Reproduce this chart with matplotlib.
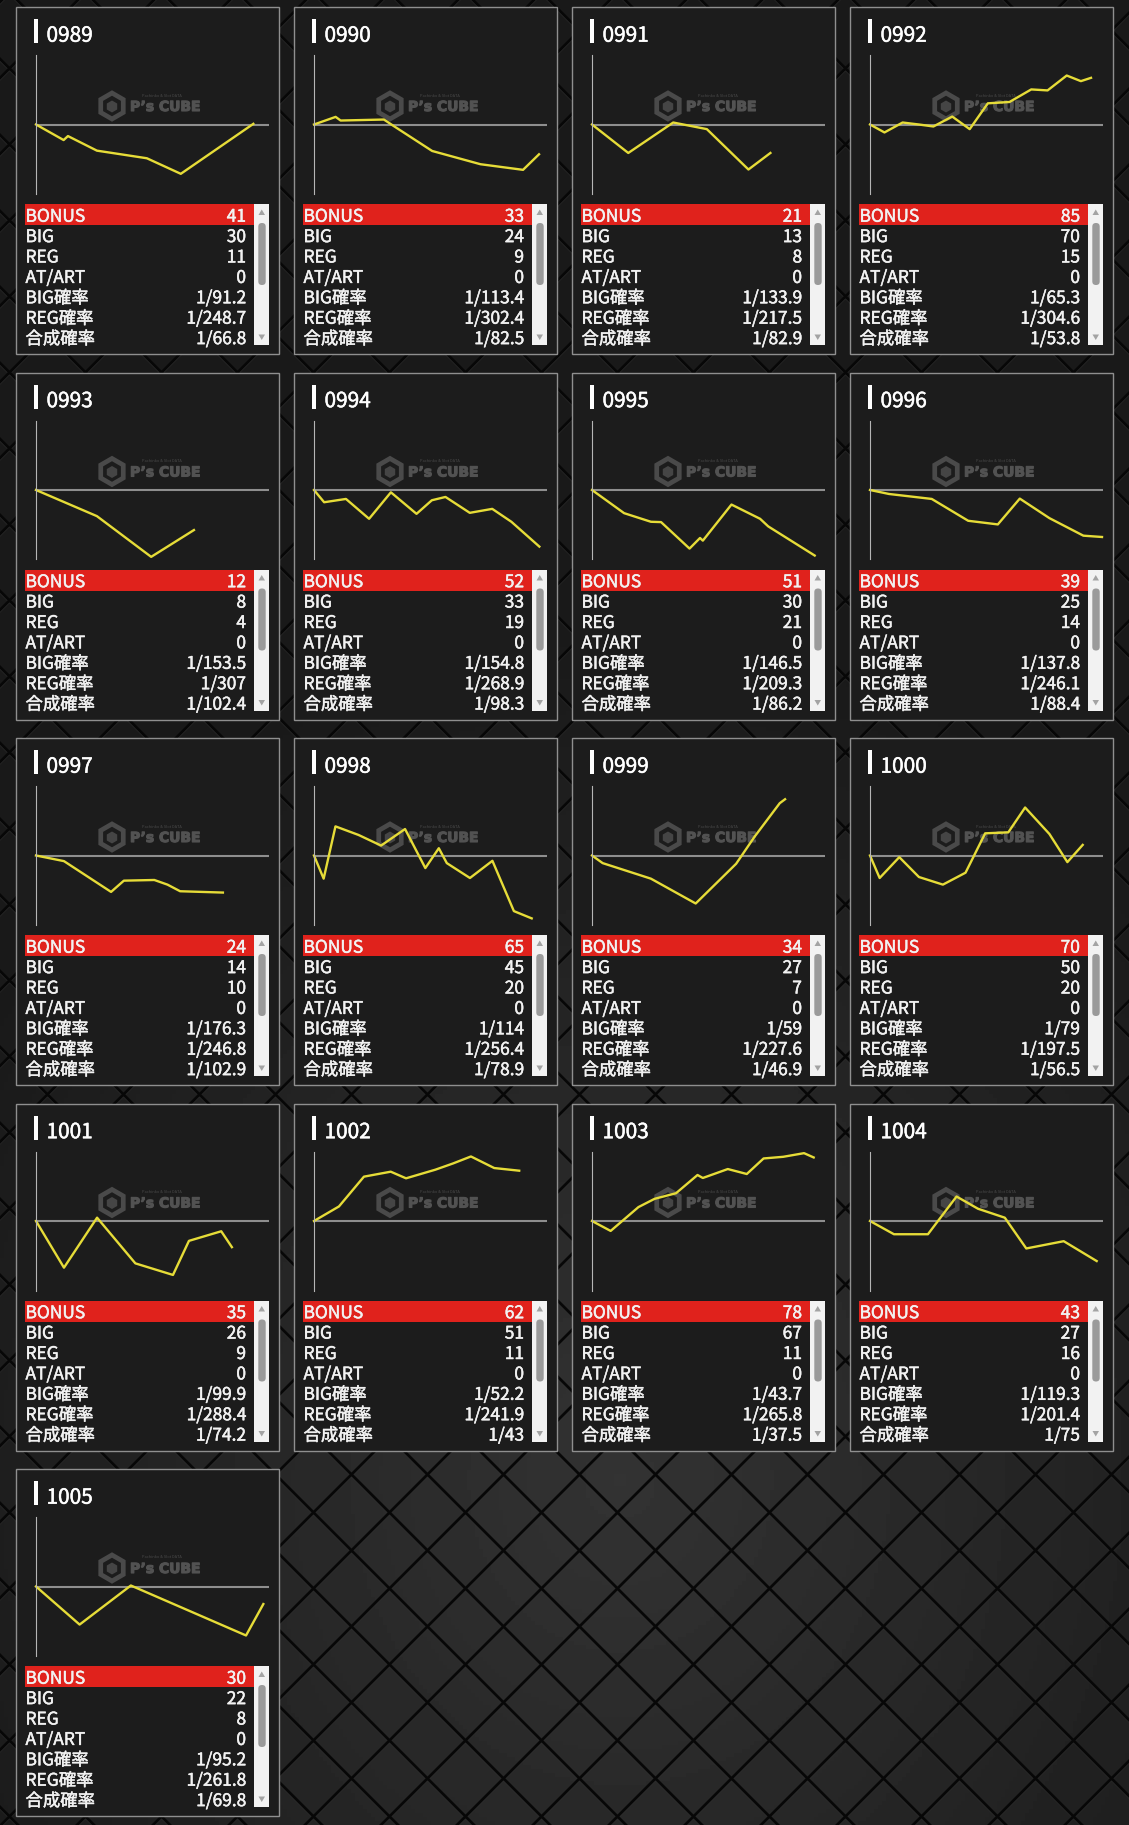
import numpy as np
import matplotlib.pyplot as plt
import matplotlib.patheffects as pe
from matplotlib.patches import Rectangle, FancyBboxPatch, Polygon, RegularPolygon

plt.rcParams['font.family'] = ['Noto Sans CJK JP', 'DejaVu Sans']

# machine data
machine_ids = ['0989', '0990', '0991', '0992', '0993', '0994', '0995', '0996', '0997',
               '0998', '0999', '1000', '1001', '1002', '1003', '1004', '1005']
bonus_counts = [41, 33, 21, 85, 12, 52, 51, 39, 24, 65, 34, 70, 35, 62, 78, 43, 30]
big_counts = [30, 24, 13, 70, 8, 33, 30, 25, 14, 45, 27, 50, 26, 51, 67, 27, 22]
reg_counts = [11, 9, 8, 15, 4, 19, 21, 14, 10, 20, 7, 20, 9, 11, 11, 16, 8]
art_counts = [0] * 17
big_rates = ['1/91.2', '1/113.4', '1/133.9', '1/65.3', '1/153.5', '1/154.8', '1/146.5', '1/137.8',
             '1/176.3', '1/114', '1/59', '1/79', '1/99.9', '1/52.2', '1/43.7', '1/119.3', '1/95.2']
reg_rates = ['1/248.7', '1/302.4', '1/217.5', '1/304.6', '1/307', '1/268.9', '1/209.3', '1/246.1',
             '1/246.8', '1/256.4', '1/227.6', '1/197.5', '1/288.4', '1/241.9', '1/265.8', '1/201.4', '1/261.8']
total_rates = ['1/66.8', '1/82.5', '1/82.9', '1/53.8', '1/102.4', '1/98.3', '1/86.2', '1/88.4',
               '1/102.9', '1/78.9', '1/46.9', '1/56.5', '1/74.2', '1/43', '1/37.5', '1/75', '1/69.8']

# slump graphs (games, coin difference), estimated
graph_games = [
    [0, 830, 960, 1830, 3330, 4350, 6530],
    [0, 650, 800, 2100, 2400, 3550, 5000, 6280, 6760],
    [0, 1090, 2440, 3450, 4700, 5360],
    [0, 435, 980, 1470, 1905, 2470, 2995, 3540, 4190, 4845, 5335, 5910, 6335, 6640],
    [0, 1830, 3460, 4745],
    [0, 305, 960, 1655, 2310, 3080, 3540, 3950, 4680, 5355, 5930, 6770],
    [0, 965, 1770, 2075, 2930, 3245, 3330, 4190, 5050, 5295, 6690],
    [0, 570, 1855, 2950, 3840, 4500, 5390, 6410, 6970],
    [0, 840, 2255, 2640, 3555, 3950, 4330, 5615],
    [0, 290, 645, 1340, 2015, 2735, 3345, 3750, 3990, 4685, 5360, 6005, 6540],
    [0, 320, 1770, 3115, 4330, 4885, 5640, 5800],
    [0, 290, 880, 1470, 2190, 2870, 3460, 4155, 4660, 5390, 5930, 6390],
    [0, 840, 1835, 2985, 4115, 4595, 5565, 5885],
    [0, 750, 1500, 2305, 2765, 3645, 4180, 4715, 5415, 6165],
    [0, 560, 1395, 1880, 2525, 3170, 3330, 4080, 4650, 5155, 5745, 6370, 6660],
    [0, 720, 1740, 2600, 3245, 4050, 4695, 5820, 6810],
    [0, 1310, 2850, 6310, 6830],
]
graph_coins = [
    [0, -470, -350, -790, -1020, -1490, 20],
    [0, 230, 120, 150, -50, -800, -1200, -1370, -900],
    [0, -860, 60, -140, -1360, -860],
    [0, -240, 60, 0, -60, 240, -140, 640, 680, 1060, 1030, 1480, 1310, 1410],
    [0, -790, -2020, -1210],
    [0, -370, -270, -870, -70, -720, -310, -210, -690, -570, -960, -1710],
    [0, -700, -960, -970, -1770, -1450, -1530, -440, -870, -1100, -1980],
    [0, -120, -270, -930, -1040, -260, -850, -1380, -1420],
    [0, -170, -1100, -760, -740, -880, -1080, -1120],
    [0, -700, 880, 620, 300, 800, -380, 220, -230, -680, -160, -1680, -1900],
    [0, -230, -700, -1450, -250, 570, 1580, 1700],
    [0, -680, -50, -650, -880, -520, 670, 700, 1450, 650, -200, 320],
    [0, -1410, 100, -1280, -1630, -600, -310, -790],
    [0, 440, 1340, 1490, 1290, 1550, 1740, 1950, 1600, 1520],
    [0, -300, 420, 670, 840, 1390, 1300, 1570, 1420, 1890, 1940, 2050, 1920],
    [0, -400, -400, 740, 370, 100, -830, -610, -1210],
    [0, -1150, 30, -1480, -530],
]

row_labels = ['BONUS', 'BIG', 'REG', 'AT/ART', 'BIG確率', 'REG確率', '合成確率']

W, H = 1129, 1825
fig = plt.figure(figsize=(W / 100, H / 100), dpi=100)
bg = fig.add_axes([0, 0, 1, 1])
bg.set_xlim(0, W)
bg.set_ylim(H, 0)
bg.axis('off')

# dark background with a soft light spot
yy, xx = np.mgrid[0:H:4, 0:W:4]
r = np.sqrt(((xx - 620) / 750) ** 2 + ((yy - 1480) / 850) ** 2)
shade = 0.10 + 0.10 * np.clip(1 - r, 0, 1)
bg.imshow(shade, cmap='gray', vmin=0, vmax=1, extent=[0, W, H, 0], aspect='auto', zorder=0)

# diamond quilt lines
pitch = 76
for c in np.arange(-W - 26, H + W, pitch):
    bg.plot([0, W], [c, c + W], color='#363636', lw=0.6, zorder=0.5)
    bg.plot([0, W], [c - 2, c - 2 + W], color='#070707', lw=2.0, zorder=0.6)
for c in np.arange(4, H + 2 * W, pitch):
    bg.plot([0, W], [c, c - W], color='#363636', lw=0.6, zorder=0.5)
    bg.plot([0, W], [c - 2, c - 2 - W], color='#070707', lw=2.0, zorder=0.6)

thick = [pe.withStroke(linewidth=0.35, foreground='#f2f2f2')]
thick_title = [pe.withStroke(linewidth=0.35, foreground='white')]
thick_mark = [pe.withStroke(linewidth=0.8, foreground='#525252')]

for i, mid in enumerate(machine_ids):
    col, row = i % 4, i // 4
    px = 16 + 278 * col
    py = 7 + 365.5 * row

    bg.add_patch(Rectangle((px, py), 262.5, 347, facecolor='#1c1c1c', edgecolor='#8f8f8f',
                           lw=1, zorder=3))
    bg.add_patch(Rectangle((px + 18, py + 12), 3.5, 24, facecolor='white', edgecolor='none', zorder=4))
    bg.text(px + 30.5, py + 34.7, mid, color='white', fontsize=15, ha='left', va='baseline',
            zorder=5, path_effects=thick_title)

    # watermark
    bg.add_patch(RegularPolygon((px + 96, py + 99), numVertices=6, radius=13, facecolor='none',
                                edgecolor='#4a4a4a', lw=3.4, zorder=4))
    bg.add_patch(RegularPolygon((px + 96, py + 99.5), numVertices=6, radius=6, facecolor='#454545',
                                edgecolor='none', zorder=4))
    bg.text(px + 114, py + 100, 'P’s CUBE', color='#525252', fontsize=10, fontweight='bold',
            family='DejaVu Sans', ha='left', va='center', zorder=4, path_effects=thick_mark)
    bg.text(px + 126, py + 88.5, 'Pachinko & Slot DATA', color='#4a4a4a', fontsize=2.8,
            ha='left', va='center', zorder=4)

    # table
    bg.add_patch(Rectangle((px + 9, py + 197), 229, 21, facecolor='#e0221c', edgecolor='none', zorder=4))
    values = [bonus_counts[i], big_counts[i], reg_counts[i], art_counts[i],
              big_rates[i], reg_rates[i], total_rates[i]]
    for k, (lab, val) in enumerate(zip(row_labels, values)):
        yb = py + 214.7 + 20.4 * k
        bg.text(px + 9.5, yb, lab, color='#f2f2f2', fontsize=12.5, ha='left', va='baseline',
                zorder=5, path_effects=thick)
        bg.text(px + 230, yb, str(val), color='#f2f2f2', fontsize=12.5, ha='right', va='baseline',
                zorder=5, path_effects=thick)

    # scrollbar
    bg.add_patch(Rectangle((px + 238, py + 197), 15, 141, facecolor='#f2f2f2', edgecolor='none', zorder=4))
    bg.add_patch(Polygon([[px + 242.5, py + 208], [px + 249, py + 208], [px + 245.75, py + 202.5]],
                         closed=True, facecolor='#a3a3a3', edgecolor='none', zorder=5))
    bg.add_patch(Polygon([[px + 242.5, py + 327.5], [px + 249, py + 327.5], [px + 245.75, py + 333]],
                         closed=True, facecolor='#a3a3a3', edgecolor='none', zorder=5))
    bg.add_patch(FancyBboxPatch((px + 242.3, py + 216), 7.4, 62,
                                boxstyle='round,pad=0,rounding_size=3.6',
                                facecolor='#9a9a9a', edgecolor='none', zorder=5))

    # slump graph
    ax = fig.add_axes([(px + 20) / W, 1 - (py + 187) / H, 233 / W, 139 / H])
    ax.set_facecolor('none')
    ax.axhline(0, color='#8e8e8e', lw=1.5, zorder=1)
    ax.plot(graph_games[i], graph_coins[i], color='#e6dc38', lw=1.7, zorder=2, clip_on=False)
    ax.set_xlim(0, 7000)
    ax.set_ylim(-2100, 2100)
    ax.set_xticks([])
    ax.set_yticks([])
    for s in ['top', 'right', 'bottom']:
        ax.spines[s].set_visible(False)
    ax.spines['left'].set_color('#b5b5b5')
    ax.spines['left'].set_linewidth(0.8)

fig.savefig('out.png', dpi=100, facecolor='#151515')
